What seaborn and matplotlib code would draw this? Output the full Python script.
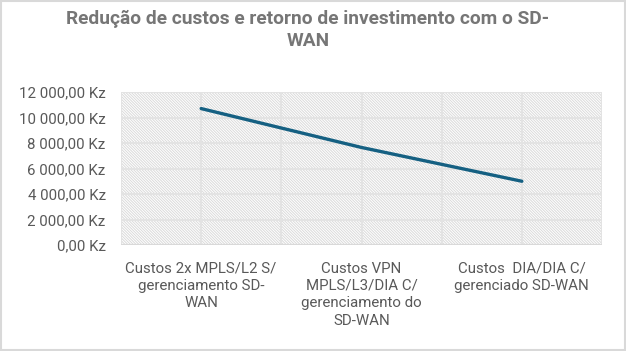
import matplotlib
matplotlib.use("Agg")
import matplotlib.pyplot as plt
import matplotlib.patches as mpatches
import seaborn as sns
import pandas as pd

categories = [
    "Custos 2x MPLS/L2 S/\ngerenciamento SD-\nWAN",
    "Custos VPN\nMPLS/L3/DIA C/\ngerenciamento do\nSD-WAN",
    "Custos  DIA/DIA C/\ngerenciado SD-WAN",
]
costs = [10700, 7650, 5000]
y_ticks = [0, 2000, 4000, 6000, 8000, 10000, 12000]
title = "Redução de custos e retorno de investimento com o SD-\nWAN"

df = pd.DataFrame({"categoria": categories, "custo": costs})

sns.set_style("white")
plt.rcParams["font.family"] = ["Roboto", "DejaVu Sans"]
plt.rcParams["hatch.color"] = "#dadada"
plt.rcParams["hatch.linewidth"] = 0.7

fig = plt.figure(figsize=(6.26, 3.51), dpi=100)
ax = fig.add_axes([121 / 626, 1 - 245 / 351, 481 / 626, 153 / 351])

# hatched plot area
ax.add_patch(mpatches.Rectangle((0, 0), 1, 1, transform=ax.transAxes,
                                facecolor="white", edgecolor="#dadada",
                                hatch="\\" * 12, lw=0, zorder=0))

sns.lineplot(data=df, x="categoria", y="custo", ax=ax, color="#156082",
             linewidth=2.4, sort=False, zorder=3)

ax.set_xlim(-0.5, 2.5)
ax.set_ylim(0, 12000)
ax.set_yticks(y_ticks)
ax.set_yticklabels([f"{v:,.2f} Kz".replace(",", " ").replace(".", ",") for v in y_ticks],
                   fontsize=10.8, color="#595959")
ax.set_xticks(range(len(categories)))
ax.set_xticklabels(categories, fontsize=10.8, color="#595959", linespacing=1.3, va="top")
ax.tick_params(axis="both", length=0)
ax.tick_params(axis="x", pad=12)
ax.tick_params(axis="y", pad=11)

for x in [-0.5, 0, 0.5, 1, 1.5, 2, 2.5]:
    ax.axvline(x, color="#e3e3e3", lw=1.5, zorder=1)
for y in y_ticks:
    ax.axhline(y, color="#e3e3e3", lw=1.5, zorder=1)

for s in ax.spines.values():
    s.set_visible(False)
ax.axhline(0, color="#d9d9d9", lw=1.5, zorder=2)

ax.set_xlabel("")
ax.set_ylabel("")

fig.text(0.492, 0.915, title, ha="center", va="center", fontsize=13.8,
         fontweight="bold", color="#767676", linespacing=1.3)

fig.add_artist(mpatches.Rectangle((0.002, 0.003), 0.996, 0.994, transform=fig.transFigure,
                                  fill=False, edgecolor="#d9d9d9", lw=1.5))

fig.savefig("out.png", dpi=100)
